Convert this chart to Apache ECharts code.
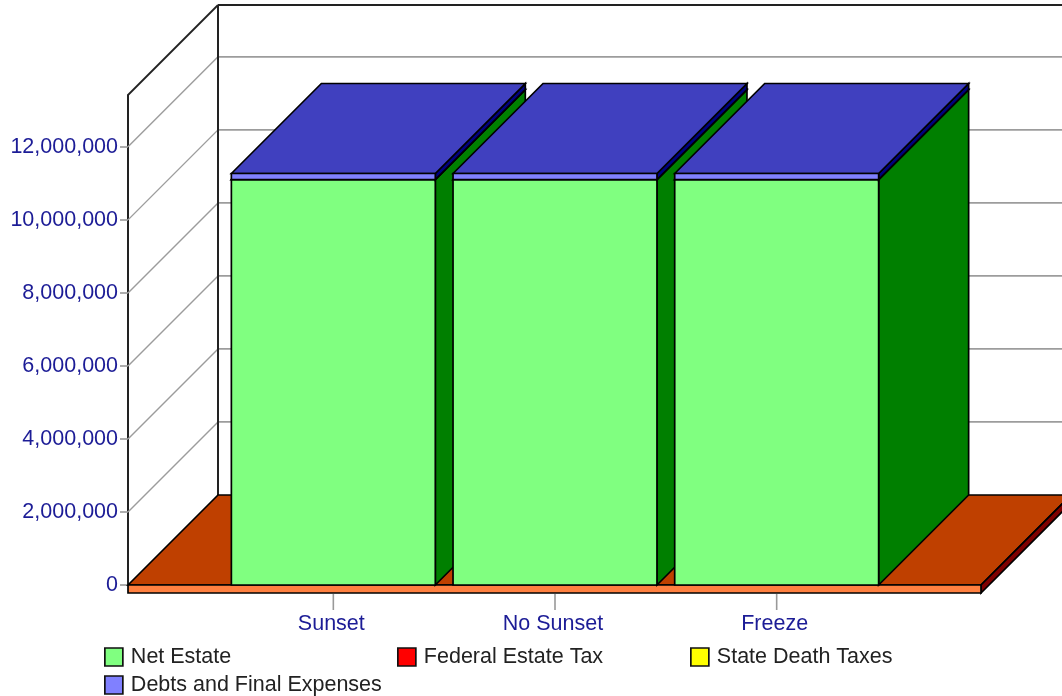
<!DOCTYPE html>
<html>
<head>
<meta charset="utf-8">
<style>html,body{margin:0;padding:0;background:#fff}#chart{width:1062px;height:696px}</style>
<script src="https://cdn.jsdelivr.net/npm/echarts@6/dist/echarts.min.js"></script>
</head>
<body>
<div id="chart"></div>
<script>
// Estate outcomes under three tax scenarios (dollars)
const categories = ['Sunset', 'No Sunset', 'Freeze'];
const netEstate = [11100000, 11100000, 11100000];
const federalEstateTax = [0, 0, 0];
const stateDeathTaxes = [0, 0, 0];
const debtsAndExpenses = [170000, 170000, 170000];
const tickValues = [0, 2000000, 4000000, 6000000, 8000000, 10000000, 12000000];
const axisTop = 13420000;

// Pseudo-3D projection of the plot box, in pixels
const DEPTH = 90;
const SLAB = 8;
const MARGIN_LEFT = 94.5;
const MARGIN_RIGHT = 93.5;
const BAR_RATIO = 0.92;
const EDGE = 1.7;
const CATEGORY_TICK = 16;

const chart = echarts.init(document.getElementById('chart'));

function poly(points, fill) {
  return {
    type: 'polygon',
    shape: { points: points },
    style: { fill: fill, stroke: '#000', lineWidth: EDGE, lineJoin: 'miter' }
  };
}
function line(a, b, color, width) {
  return {
    type: 'line',
    shape: { x1: a[0], y1: a[1], x2: b[0], y2: b[1] },
    style: { stroke: color, lineWidth: width, fill: null }
  };
}

// Left and back walls: one diagonal plus one horizontal rule per value
function renderWallRule(params, api) {
  const value = api.value(0);
  const sys = params.coordSys;
  const y = api.coord([0, value])[1];
  const left = sys.x - MARGIN_LEFT;
  const right = sys.x + sys.width + MARGIN_RIGHT + DEPTH;
  const isTop = value === axisTop;
  const diagColor = isTop ? '#222' : '#9c9c9c';
  const ruleColor = isTop ? '#222' : '#9c9c9c';
  const children = [
    line([left, y], [left + DEPTH, y - DEPTH], diagColor, isTop ? 1.8 : 1.4),
    line([left + DEPTH, y - DEPTH], [right, y - DEPTH], ruleColor, isTop ? 2 : 1.8)
  ];
  if (isTop) {
    const y0 = api.coord([0, 0])[1];
    children.push(line([left + DEPTH, y - DEPTH], [left + DEPTH, y0 - DEPTH], '#222', 2));
  }
  return { type: 'group', children: children };
}

// Floor plate with its front and right edges
function renderFloor(params, api) {
  const sys = params.coordSys;
  const y = api.coord([0, 0])[1];
  const l = sys.x - MARGIN_LEFT;
  const r = sys.x + sys.width + MARGIN_RIGHT;
  return {
    type: 'group',
    children: [
      poly([[l, y], [l + DEPTH, y - DEPTH], [r + DEPTH, y - DEPTH], [r, y]], '#BF4000'),
      poly([[r, y], [r + DEPTH, y - DEPTH], [r + DEPTH, y - DEPTH + SLAB], [r, y + SLAB]], '#7F0000'),
      poly([[l, y], [r, y], [r, y + SLAB], [l, y + SLAB]], '#FF8040')
    ]
  };
}

// Category tick hanging below the floor's front edge
function renderCategoryTick(params, api) {
  const p = api.coord([api.value(0), 0]);
  const top = p[1] + SLAB + 1;
  return line([p[0], top], [p[0], top + CATEGORY_TICK], '#999', 1.6);
}

// One stacked segment drawn as a box: side, top, then front face
function boxRenderer(frontColor, topColor, sideColor) {
  return function (params, api) {
    const cat = api.value(0);
    const base = api.value(1);
    const top = api.value(2);
    if (top <= base) return null;
    const half = api.size([1, 0])[0] * BAR_RATIO / 2;
    const cx = api.coord([cat, 0])[0];
    const yBase = api.coord([cat, base])[1];
    const yTop = api.coord([cat, top])[1];
    const l = cx - half, r = cx + half;
    const d = DEPTH;
    return {
      type: 'group',
      children: [
        poly([[r, yBase], [r + d, yBase - d], [r + d, yTop - d], [r, yTop]], sideColor),
        poly([[l, yTop], [l + d, yTop - d], [r + d, yTop - d], [r, yTop]], topColor),
        poly([[l, yBase], [r, yBase], [r, yTop], [l, yTop]], frontColor)
      ]
    };
  };
}

// Stack the segments bottom-up so each one knows its base value
const layers = [
  { name: 'Net Estate', values: netEstate, colors: ['#80FF80', '#40BF40', '#007F00'] },
  { name: 'Federal Estate Tax', values: federalEstateTax, colors: ['#FF0000', '#BF0000', '#7F0000'] },
  { name: 'State Death Taxes', values: stateDeathTaxes, colors: ['#FFFF00', '#BFBF00', '#7F7F00'] },
  { name: 'Debts and Final Expenses', values: debtsAndExpenses, colors: ['#8080FF', '#4040BF', '#00007F'] }
];
const running = categories.map(() => 0);
const barSeries = layers.map(layer => ({
  type: 'custom',
  name: layer.name,
  itemStyle: { color: layer.colors[0] },
  renderItem: boxRenderer(layer.colors[0], layer.colors[1], layer.colors[2]),
  encode: { x: 0, y: [1, 2] },
  data: layer.values.map((v, i) => {
    const item = [i, running[i], running[i] + v];
    running[i] += v;
    return item;
  }),
  silent: true
}));

const legendSlots = [[104, 646], [397, 646], [690, 646], [104, 674]];
const legends = layers.map((layer, i) => ({
  data: [layer.name],
  left: legendSlots[i][0],
  top: legendSlots[i][1],
  padding: 0,
  itemWidth: 18,
  itemHeight: 18,
  selectedMode: false,
  icon: 'rect',
  itemStyle: { borderColor: '#111', borderWidth: 1.7 },
  textStyle: { color: '#222', fontFamily: 'Liberation Sans', fontSize: 21.5, padding: [0, 0, 2, 3] }
}));

const axisFont = { color: '#1c1c96', fontFamily: 'Liberation Sans', fontSize: 21.5 };

chart.setOption({
  animation: false,
  backgroundColor: '#fff',
  legend: legends,
  grid: { left: 222.5, width: 665, top: 95, bottom: 111, containLabel: false },
  xAxis: {
    type: 'category',
    data: categories,
    offset: SLAB + 1,
    axisLine: { show: false },
    axisTick: { show: false },
    axisLabel: Object.assign({ margin: 19, padding: [0, 4, 0, 0] }, axisFont),
    splitLine: { show: false }
  },
  yAxis: {
    type: 'value',
    min: 0,
    max: axisTop,
    offset: MARGIN_LEFT,
    axisLine: { show: true, lineStyle: { color: '#222', width: 2 } },
    axisTick: { show: true, length: 8, customValues: tickValues, lineStyle: { color: '#999', width: 1.6 } },
    axisLabel: Object.assign({
      margin: 10,
      padding: [4, 0, 0, 0],
      customValues: tickValues,
      formatter: v => v.toLocaleString('en-US')
    }, axisFont),
    splitLine: { show: false }
  },
  series: [
    {
      type: 'custom',
      name: 'walls',
      silent: true,
      renderItem: renderWallRule,
      encode: { y: 0 },
      data: tickValues.slice(1).concat([axisTop]).map(v => [v])
    },
    {
      type: 'custom',
      name: 'floor',
      silent: true,
      renderItem: renderFloor,
      encode: { y: 0 },
      data: [[0]]
    },
    {
      type: 'custom',
      name: 'category ticks',
      silent: true,
      renderItem: renderCategoryTick,
      encode: { x: 0 },
      data: categories.map((c, i) => [i])
    }
  ].concat(barSeries)
});
</script>
</body>
</html>
